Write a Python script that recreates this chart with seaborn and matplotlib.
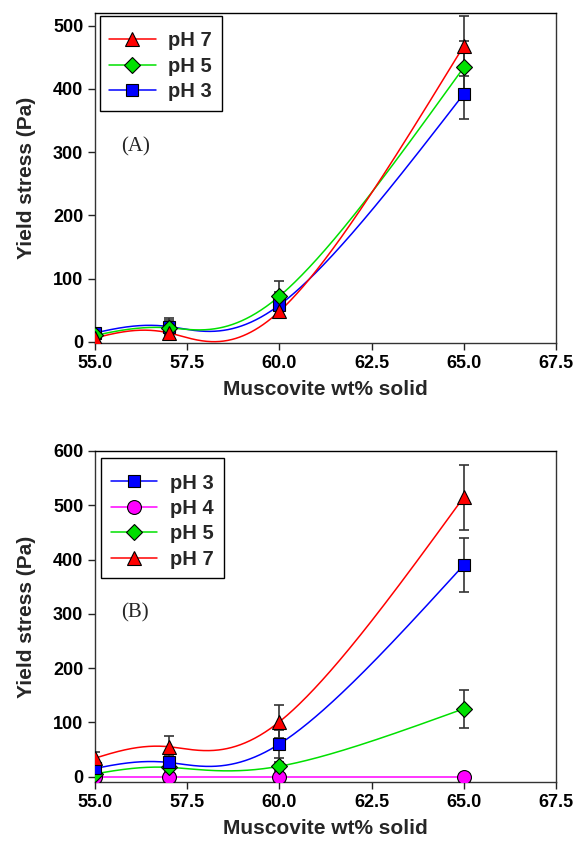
import numpy as np
import pandas as pd
import matplotlib
matplotlib.use("Agg")
import matplotlib.pyplot as plt
from matplotlib.lines import Line2D
from matplotlib.patches import Rectangle
import seaborn as sns

# ---------------- data ----------------
solids = [55.0, 57.0, 60.0, 65.0]

# Panel A
a_ph7 = [6, 14, 48, 468]
a_ph7_err = [4, 10, 10, 47]
a_ph5 = [10, 22, 72, 434]
a_ph5_err = [4, 12, 24, 42]
a_ph3 = [14, 24, 58, 392]
a_ph3_err = [4, 14, 20, 39]

# Panel B
b_ph3 = [15, 26, 60, 390]
b_ph3_err = [8, 12, 26, 50]
b_ph4 = [0, 0, 0, 0]
b_ph4_err = [0, 0, 0, 0]
b_ph5 = [5, 17, 19, 125]
b_ph5_err = [4, 8, 8, 35]
b_ph7 = [34, 55, 101, 515]
b_ph7_err = [12, 19, 30, 60]

x_ticks = [55.0, 57.5, 60.0, 62.5, 65.0, 67.5]
a_yticks = [0, 100, 200, 300, 400, 500]
b_yticks = [0, 100, 200, 300, 400, 500, 600]


def natural_spline(x, y, xs):
    x = np.asarray(x, float)
    y = np.asarray(y, float)
    n = len(x)
    h = np.diff(x)
    A = np.zeros((n, n))
    r = np.zeros(n)
    A[0, 0] = 1
    A[-1, -1] = 1
    for i in range(1, n - 1):
        A[i, i - 1] = h[i - 1]
        A[i, i] = 2 * (h[i - 1] + h[i])
        A[i, i + 1] = h[i]
        r[i] = 6 * ((y[i + 1] - y[i]) / h[i] - (y[i] - y[i - 1]) / h[i - 1])
    M = np.linalg.solve(A, r)
    out = np.empty_like(xs)
    for k, xv in enumerate(xs):
        i = min(np.searchsorted(x, xv, side="right") - 1, n - 2)
        i = max(i, 0)
        t1 = x[i + 1] - xv
        t0 = xv - x[i]
        hi = h[i]
        out[k] = (M[i] * t1 ** 3 / (6 * hi) + M[i + 1] * t0 ** 3 / (6 * hi)
                  + (y[i] / hi - M[i] * hi / 6) * t1
                  + (y[i + 1] / hi - M[i + 1] * hi / 6) * t0)
    return out


def parametric_spline(x, y, n=400):
    """Uniformly parameterised natural cubic spline through the points."""
    t = np.arange(len(x), dtype=float)
    ts = np.linspace(0, t[-1], n)
    return natural_spline(t, x, ts), natural_spline(t, y, ts)


sns.set_style("ticks")
plt.rcParams["font.family"] = ["Liberation Sans", "DejaVu Sans"]

RED = "#ff0000"
GREEN = "#00e000"
BLUE = "#0000ff"
MAG = "#ff00ff"

fig = plt.figure(figsize=(5.74, 8.41), dpi=100)
W, H = 574, 841
axA = fig.add_axes([95 / W, 1 - 343 / H, 461 / W, 330 / H])
axB = fig.add_axes([95 / W, 1 - 782 / H, 461 / W, 331 / H])


def draw_series(ax, y, err, color, marker, ms):
    xs, ys = parametric_spline(solids, y)
    df = pd.DataFrame({"x": xs, "y": ys})
    sns.lineplot(data=df, x="x", y="y", color=color, lw=1.1, ax=ax,
                 legend=False, sort=False, estimator=None)
    ax.errorbar(solids, y, yerr=err, fmt="none", ecolor="#333333",
                elinewidth=1.2, capsize=3.6, capthick=1.2, zorder=3)
    ax.plot(solids, y, ls="none", marker=marker, ms=ms, mfc=color,
            mec="black", mew=0.8, zorder=4)


def style_axis(ax, yticks, ylim, label):
    ax.set_xlim(55.0, 67.5)
    ax.set_ylim(*ylim)
    ax.set_xticks(x_ticks)
    ax.set_xticklabels([f"{t:.1f}" for t in x_ticks])
    ax.set_yticks(yticks)
    ax.set_yticklabels([str(t) for t in yticks])
    ax.tick_params(direction="out", length=5, width=1, labelsize=13,
                   colors="#222222", labelcolor="black")
    for lab in ax.get_xticklabels() + ax.get_yticklabels():
        lab.set_fontweight("bold")
    for sp in ax.spines.values():
        sp.set_visible(True)
        sp.set_linewidth(1.0)
        sp.set_color("#333333")
    ax.spines["top"].set_color("black")
    ax.set_xlabel("Muscovite wt% solid", fontsize=15, fontweight="bold",
                  labelpad=6)
    ax.set_ylabel("Yield stress (Pa)", fontsize=15, fontweight="bold",
                  labelpad=12)
    ax.text(0.087, label[1], label[0], transform=ax.transAxes,
            fontsize=15, family="Liberation Serif", ha="center", va="center")


def handle(color, marker, ms):
    return Line2D([], [], color=color, lw=1.1, marker=marker, ms=ms,
                  mfc=color, mec="black", mew=0.8)


def boxed_legend(ax, handles, labels, anchor, box):
    leg = ax.legend(handles, labels, loc="upper left", bbox_to_anchor=anchor,
                    borderaxespad=0, borderpad=0, frameon=False,
                    handlelength=2.3, handletextpad=0.6, labelspacing=0.32,
                    prop={"weight": "bold", "size": 14.5})
    ax.add_patch(Rectangle((box[0], box[1]), box[2], box[3],
                           transform=ax.transAxes, fill=False,
                           edgecolor="black", lw=1.0, zorder=5))
    return leg


# Panel A
draw_series(axA, a_ph3, a_ph3_err, BLUE, "s", 9)
draw_series(axA, a_ph5, a_ph5_err, GREEN, "D", 8)
draw_series(axA, a_ph7, a_ph7_err, RED, "^", 9.5)
style_axis(axA, a_yticks, (-2, 520), ("(A)", 0.594))
boxed_legend(axA, [handle(RED, "^", 9.5), handle(GREEN, "D", 8),
                   handle(BLUE, "s", 9)], ["pH 7", "pH 5", "pH 3"],
             (0.031, 0.944), (0.0108, 0.703, 0.265, 0.288))

# Panel B
draw_series(axB, b_ph4, b_ph4_err, MAG, "o", 10)
draw_series(axB, b_ph5, b_ph5_err, GREEN, "D", 8)
draw_series(axB, b_ph3, b_ph3_err, BLUE, "s", 9)
draw_series(axB, b_ph7, b_ph7_err, RED, "^", 9.5)
style_axis(axB, b_yticks, (-10, 600), ("(B)", 0.51))
boxed_legend(axB, [handle(BLUE, "s", 9), handle(MAG, "o", 10),
                   handle(GREEN, "D", 8), handle(RED, "^", 9.5)],
             ["pH 3", "pH 4", "pH 5", "pH 7"],
             (0.035, 0.932), (0.013, 0.616, 0.267, 0.363))

fig.savefig("out.png", dpi=100, facecolor="white")
